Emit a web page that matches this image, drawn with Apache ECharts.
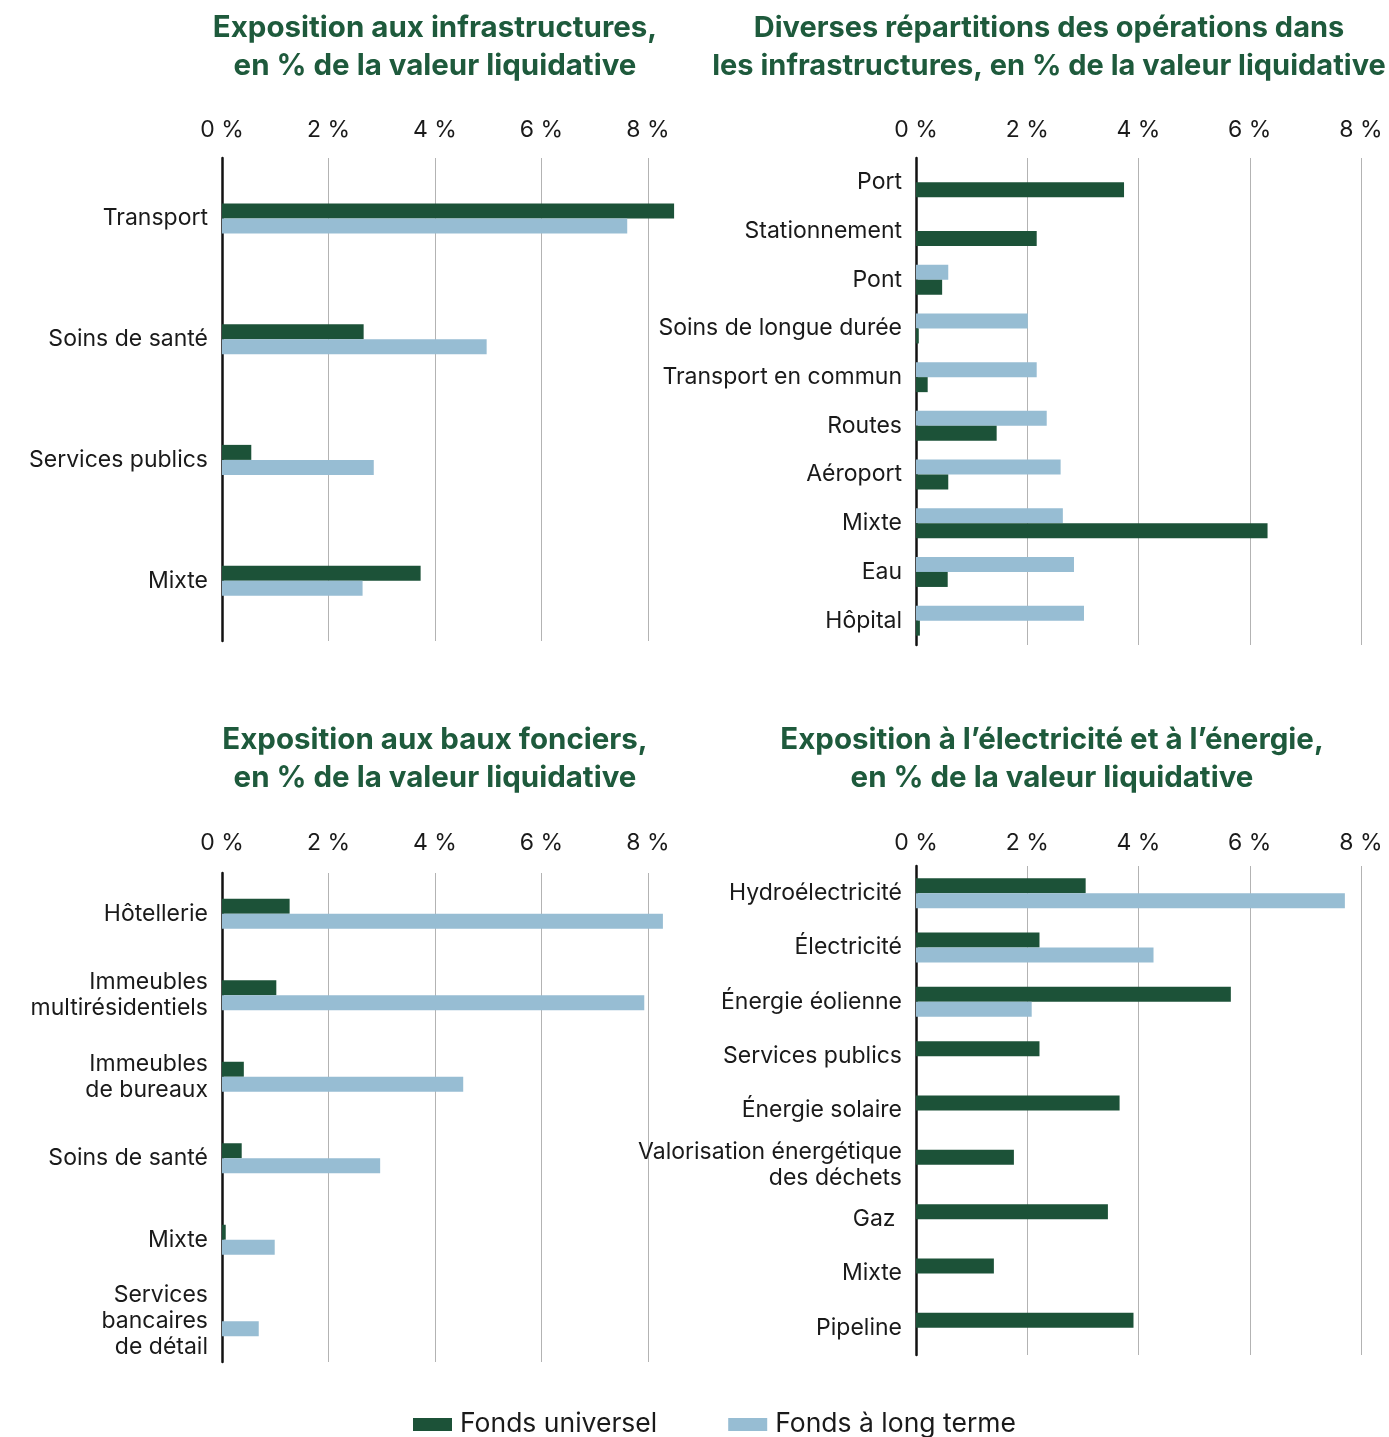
<!DOCTYPE html>
<html>
<head>
<meta charset="utf-8">
<script src="https://cdn.jsdelivr.net/npm/echarts@6/dist/echarts.min.js"></script>
<style>
  html, body { margin: 0; padding: 0; background: #ffffff; }
  #chart { width: 1389px; height: 1437px; }
</style>
</head>
<body>
<div id="chart"></div>
<script>
// Series names
const SERIES_DARK = 'Fonds universel';
const SERIES_LIGHT = 'Fonds à long terme';

// Panel 1: infrastructure exposure (% of NAV)
const infraCats = ['Transport', 'Soins de santé', 'Services publics', 'Mixte'];
const infraUniversel = [8.49, 2.66, 0.55, 3.73];
const infraLongTerme = [7.61, 4.97, 2.85, 2.64];

// Panel 2: infrastructure operations breakdown (% of NAV)
const opsCats = ['Port', 'Stationnement', 'Pont', 'Soins de longue durée', 'Transport en commun',
                 'Routes', 'Aéroport', 'Mixte', 'Eau', 'Hôpital'];
const opsUniversel = [3.74, 2.17, 0.47, 0.05, 0.21, 1.45, 0.58, 6.32, 0.57, 0.07];
const opsLongTerme = [0, 0, 0.58, 2.01, 2.17, 2.35, 2.60, 2.64, 2.84, 3.02];

// Panel 3: ground lease exposure (% of NAV)
const leaseCats = ['Hôtellerie', 'Immeubles\nmultirésidentiels', 'Immeubles\nde bureaux',
                   'Soins de santé', 'Mixte', 'Services\nbancaires\nde détail'];
const leaseUniversel = [1.27, 1.02, 0.41, 0.37, 0.07, 0];
const leaseLongTerme = [8.28, 7.93, 4.53, 2.97, 0.99, 0.69];

// Panel 4: power and energy exposure (% of NAV)
const energyCats = ['Hydroélectricité', 'Électricité', 'Énergie éolienne', 'Services publics',
                    'Énergie solaire', 'Valorisation énergétique\ndes déchets', 'Gaz ', 'Mixte', 'Pipeline'];
const energyUniversel = [3.05, 2.22, 5.66, 2.22, 3.66, 1.76, 3.45, 1.40, 3.91];
const energyLongTerme = [7.71, 4.27, 2.08, 0, 0, 0, 0, 0, 0];

// Value-axis ticks
const tickMin = 0;
const tickMax = 8;
const tickStep = 2;

const DARK = '#1c5238';
const LIGHT = '#97bdd3';
const TITLE_GREEN = '#1e5a3c';
const FONT = 'Inter';

const chart = echarts.init(document.getElementById('chart'), null, { renderer: 'canvas' });

const grids = [
  { left: 222, top: 158, width: 426, height: 483 },
  { left: 916, top: 158, width: 445, height: 487 },
  { left: 222, top: 873, width: 426, height: 489 },
  { left: 916, top: 866, width: 445, height: 489 }
];
const labelMargins = [16, 16, 18, 11];

function xAxisFor(i) {
  return {
    type: 'value', gridIndex: i, position: 'top',
    min: tickMin, max: tickMax, interval: tickStep,
    axisLine: { show: false }, axisTick: { show: false },
    splitLine: { show: true, lineStyle: { color: '#b3b3b3', width: 1 } },
    axisLabel: {
      margin: labelMargins[i], fontFamily: FONT, fontSize: 23, color: '#1a1a1a',
      formatter: v => v + ' %'
    }
  };
}
function yAxisFor(i, cats) {
  return {
    type: 'category', gridIndex: i, data: cats, inverse: true,
    axisLine: { show: true, lineStyle: { color: '#111111', width: 2.5 } },
    axisTick: { show: false },
    axisLabel: { margin: 14, fontFamily: FONT, fontSize: 23, color: '#1a1a1a', lineHeight: 26 }
  };
}
function bar(name, i, data, color) {
  return {
    type: 'bar', name, xAxisIndex: i, yAxisIndex: i, data,
    barWidth: 15, barGap: '0%', clip: false, silent: true,
    itemStyle: { color }
  };
}

const titleStyle = { fontFamily: FONT, fontSize: 29.5, fontWeight: 'bold', color: TITLE_GREEN, lineHeight: 38, align: 'center' };
const titleStyleWide = Object.assign({}, titleStyle, { fontSize: 29 });

chart.setOption({
  animation: false,
  backgroundColor: '#ffffff',
  title: [
    { text: 'Exposition aux infrastructures,\nen % de la valeur liquidative', left: 430, top: 4, textAlign: 'center', textStyle: titleStyle },
    { text: 'Diverses répartitions des opérations dans\nles infrastructures, en % de la valeur liquidative', left: 1044, top: 4, textAlign: 'center', textStyle: titleStyleWide },
    { text: 'Exposition aux baux fonciers,\nen % de la valeur liquidative', left: 430, top: 716, textAlign: 'center', textStyle: titleStyle },
    { text: 'Exposition à l’électricité et à l’énergie,\nen % de la valeur liquidative', left: 1047, top: 716, textAlign: 'center', textStyle: titleStyle }
  ],
  legend: {
    data: [SERIES_DARK, SERIES_LIGHT],
    left: 413, top: 1411, padding: 0,
    icon: 'rect', itemWidth: 39, itemHeight: 13, itemGap: 71,
    textStyle: { fontFamily: FONT, fontSize: 26.5, color: '#1a1a1a', padding: [0, 0, 0, 3] }
  },
  grid: grids,
  xAxis: [0, 1, 2, 3].map(xAxisFor),
  yAxis: [
    yAxisFor(0, infraCats),
    yAxisFor(1, opsCats),
    yAxisFor(2, leaseCats),
    yAxisFor(3, energyCats)
  ],
  series: [
    bar(SERIES_DARK, 0, infraUniversel, DARK),
    bar(SERIES_LIGHT, 0, infraLongTerme, LIGHT),
    bar(SERIES_LIGHT, 1, opsLongTerme, LIGHT),
    bar(SERIES_DARK, 1, opsUniversel, DARK),
    bar(SERIES_DARK, 2, leaseUniversel, DARK),
    bar(SERIES_LIGHT, 2, leaseLongTerme, LIGHT),
    bar(SERIES_DARK, 3, energyUniversel, DARK),
    bar(SERIES_LIGHT, 3, energyLongTerme, LIGHT)
  ]
});
</script>
</body>
</html>
